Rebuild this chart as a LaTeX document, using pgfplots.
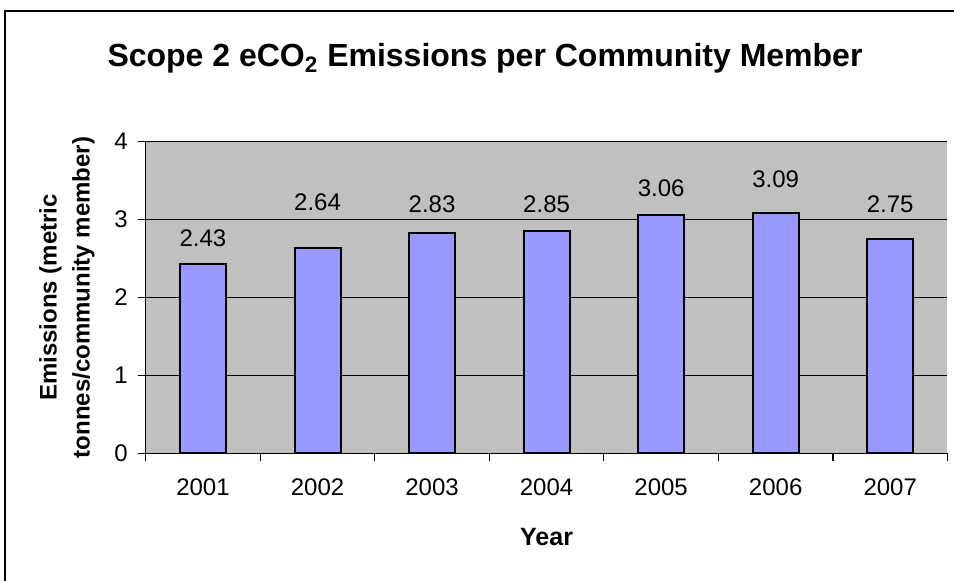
\documentclass[border=0pt]{standalone}
\usepackage{fontspec}
\setmainfont{Liberation Sans}
\usepackage{pgfplots}
\pgfplotsset{compat=1.18}
\definecolor{plotgray}{HTML}{C0C0C0}
\definecolor{barblue}{HTML}{9999FF}
\begin{document}
\begin{tikzpicture}[x=1pt,y=1pt]
\useasboundingbox (0,0) rectangle (477,290.5);
\draw[line width=1pt] (2.5,0) -- (2.5,285) -- (477,285);
\node[font=\bfseries\fontsize{16}{19}\selectfont, anchor=base] at (242.5,257) {Scope 2 eCO\textsubscript{2} Emissions per Community Member};
\begin{axis}[
  at={(72.85pt,63.85pt)}, anchor=south west,
  scale only axis, width=400.9pt, height=155.8pt,
  xmin=0.5, xmax=7.5, ymin=0, ymax=4,
  axis background/.style={fill=plotgray},
  axis lines*=left,
  axis line style={black, line width=0.75pt},
  tick align=outside,
  major tick length=4pt,
  tick style={black, line width=0.6pt},
  ytick={0,1,2,3,4},
  ymajorgrids,
  major grid style={black, line width=0.5pt},
  xtick={0.5,1.5,...,7.5},
  xticklabel=\empty,
  extra x ticks={1,2,3,4,5,6,7},
  extra x tick labels={2001,2002,2003,2004,2005,2006,2007},
  extra x tick style={major tick length=0pt, grid=none},
  xticklabel style={yshift=-9pt},
  yticklabel style={xshift=-1.5pt},
  ticklabel style={font=\fontsize{12}{14.4}\selectfont},
  /pgf/number format/assume math mode=true,
  xlabel={Year},
  xlabel style={font=\bfseries\fontsize{12.5}{15}\selectfont, at={(axis description cs:0.5,0)}, anchor=base, yshift=-46.2pt},
  ylabel={Emissions (metric\\tonnes/community member)},
  ylabel style={font=\bfseries\fontsize{12}{16.5}\selectfont, align=center, at={(axis description cs:0,0.5)}, anchor=center, yshift=39.35pt},
]
\addplot[ybar, bar width=23pt, fill=barblue, draw=black, line width=1pt]
  coordinates {(1,2.43) (2,2.64) (3,2.83) (4,2.85) (5,3.06) (6,3.09) (7,2.75)};
\addplot[draw=none, mark=none, nodes near coords, point meta=explicit symbolic,
  nodes near coords style={anchor=center, font=\fontsize{12}{14.4}\selectfont}]
  table[meta=l] {
x y l
1 2.764 2.43
2 3.226 2.64
3 3.200 2.83
4 3.200 2.85
5 3.406 3.06
6 3.521 3.09
7 3.200 2.75
};
\end{axis}
\end{tikzpicture}
\end{document}
